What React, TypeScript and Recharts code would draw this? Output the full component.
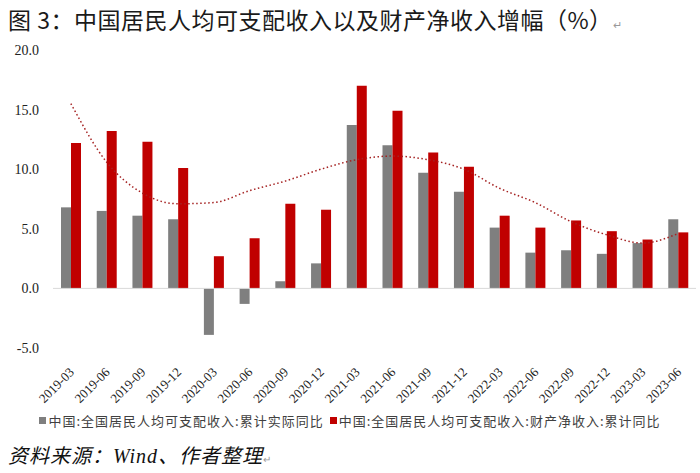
import {
  ComposedChart,
  Bar,
  Line,
  XAxis,
  YAxis,
  ReferenceLine,
} from "recharts";

// quarterly categories
const months = [
  "2019-03", "2019-06", "2019-09", "2019-12",
  "2020-03", "2020-06", "2020-09", "2020-12",
  "2021-03", "2021-06", "2021-09", "2021-12",
  "2022-03", "2022-06", "2022-09", "2022-12",
  "2023-03", "2023-06",
];

// 累计实际同比
const realGrowth = [
  6.8, 6.5, 6.1, 5.8, -3.9, -1.3, 0.6, 2.1, 13.7, 12.0, 9.7, 8.1, 5.1, 3.0,
  3.2, 2.9, 3.8, 5.8,
];

// 财产净收入 累计同比
const propertyIncome = [
  12.2, 13.2, 12.3, 10.1, 2.7, 4.2, 7.1, 6.6, 17.0, 14.9, 11.4, 10.2, 6.1, 5.1,
  5.7, 4.8, 4.1, 4.7,
];

// dotted trend line
const trend = [
  15.5, 10.6, 8.0, 7.1, 7.2, 8.2, 9.0, 10.0, 10.8, 11.1, 10.8, 10.0, 8.4, 7.2,
  5.6, 4.5, 3.8, 4.6,
];

const yTicks = [-5, 0, 5, 10, 15, 20];

const seriesNames = [
  "中国:全国居民人均可支配收入:累计实际同比",
  "中国:全国居民人均可支配收入:财产净收入:累计同比",
];
const GRAY = "#7f7f7f";
const RED = "#c00000";

const data = months.map((m, i) => ({
  month: m,
  real: realGrowth[i],
  property: propertyIncome[i],
  trend: trend[i],
}));

const XTick = ({ x, y, payload }: any) => (
  <g transform={`translate(${x + 4},${y + 17})`}>
    <text
      textAnchor="end"
      transform="rotate(-45)"
      fontSize={13}
      fontFamily="'Liberation Serif', serif"
      fill="#222"
    >
      {payload.value}
    </text>
  </g>
);

const App = () => {
  return (
    <div
      style={{
        position: "absolute",
        left: 0,
        top: 0,
        width: 700,
        height: 473,
        background: "#fff",
      }}
    >
      <div
        style={{
          position: "absolute",
          left: 8,
          top: 4,
          fontFamily: "'Noto Sans CJK SC', sans-serif",
          fontSize: 23,
          letterSpacing: 0.5,
          lineHeight: "30px",
          color: "#1a1a1a",
          whiteSpace: "nowrap",
        }}
      >
        图 3：中国居民人均可支配收入以及财产净收入增幅（%）
        <span style={{ fontSize: 11, color: "#999" }}>↵</span>
      </div>

      <ComposedChart
        width={700}
        height={473}
        data={data}
        margin={{ top: 50, right: 4, bottom: 0, left: 0 }}
        barGap={0}
        style={{ position: "absolute", left: 0, top: 0 }}
      >
        <XAxis
          dataKey="month"
          height={125}
          axisLine={false}
          tickLine={false}
          interval={0}
          tick={<XTick />}
        />
        <YAxis
          width={53}
          domain={[-5, 20]}
          ticks={yTicks}
          axisLine={false}
          tickLine={false}
          tickMargin={8}
          tickFormatter={(v: number) => v.toFixed(1)}
          tick={{
            fontSize: 14,
            fontFamily: "'Liberation Serif', serif",
            fill: "#222",
          }}
        />
        <ReferenceLine y={0} stroke="#d9d9d9" strokeWidth={1} />
        <Bar
          dataKey="real"
          name={seriesNames[0]}
          fill={GRAY}
          barSize={10}
          isAnimationActive={false}
        />
        <Bar
          dataKey="property"
          name={seriesNames[1]}
          fill={RED}
          barSize={10}
          isAnimationActive={false}
        />
        <Line
          dataKey="trend"
          type="monotone"
          stroke="#a52222"
          strokeWidth={1.5}
          strokeDasharray="1.5 2.5"
          dot={false}
          legendType="none"
          isAnimationActive={false}
        />
      </ComposedChart>

      <div
        style={{
          position: "absolute",
          left: 0,
          top: 411,
          width: 700,
          display: "flex",
          justifyContent: "center",
          fontFamily: "'Noto Sans CJK SC', sans-serif",
          fontSize: 13,
          letterSpacing: 1,
          color: "#404040",
          whiteSpace: "nowrap",
        }}
      >
        {seriesNames.map((name, i) => (
          <span
            key={name}
            style={{ display: "flex", alignItems: "center", marginRight: i === 0 ? 6 : 0 }}
          >
            <span
              style={{
                display: "inline-block",
                width: 7,
                height: 7,
                background: i === 0 ? GRAY : RED,
                marginRight: 2,
              }}
            />
            {name}
          </span>
        ))}
      </div>

      <div
        style={{
          position: "absolute",
          left: 8,
          top: 443,
          fontFamily: "'Liberation Serif', 'Noto Sans CJK SC', serif",
          fontStyle: "italic",
          fontSize: 20,
          letterSpacing: 1,
          lineHeight: "26px",
          color: "#111",
          whiteSpace: "nowrap",
        }}
      >
        资料来源：Wind、作者整理
        <span style={{ fontSize: 10, color: "#999", fontStyle: "normal" }}>↵</span>
      </div>
    </div>
  );
};

export default App;
